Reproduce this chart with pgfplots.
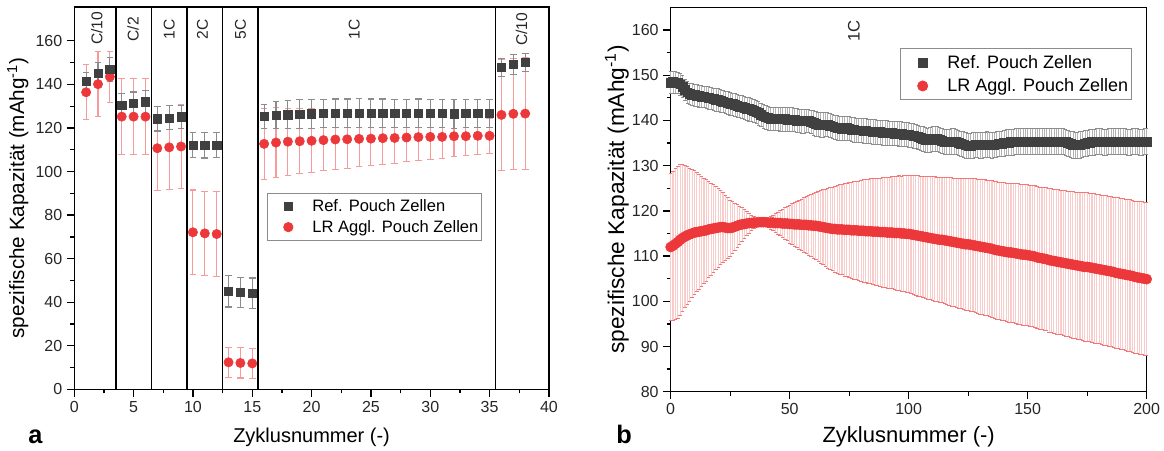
\documentclass[border=0pt]{standalone}
\usepackage{fontspec}
\setmainfont{Liberation Sans}
\usepackage{pgfplots}
\usepackage{pgfplotstable}
\pgfplotsset{compat=1.18}
\definecolor{refc}{RGB}{64,64,64}
\definecolor{referr}{RGB}{140,140,140}
\definecolor{lrc}{RGB}{236,56,58}
\definecolor{lrerr}{RGB}{245,155,155}
\definecolor{lrhatch}{RGB}{249,204,204}
\definecolor{lrcap}{RGB}{240,120,120}
\definecolor{refhatch}{RGB}{180,180,180}

% Left panel (rate test)
\pgfplotstableread[row sep=\\]{
x y e\\
1 141.3 4.1\\ 2 145.1 5.1\\ 3 147.0 5.5\\
4 130.4 5.4\\ 5 131.2 5.3\\ 6 132.0 5.3\\
7 124.2 5.6\\ 8 124.6 5.5\\ 9 125.1 5.4\\
10 112.1 5.8\\ 11 112.0 5.8\\ 12 112.1 5.8\\
13 45.0 7.2\\ 14 44.5 7.0\\ 15 44.1 7.0\\
16 125.2 5.4\\ 17 125.8 6.2\\ 18 126.1 6.5\\ 19 126.3 6.6\\ 20 126.5 6.6\\
21 126.6 6.6\\ 22 126.7 6.6\\ 23 126.7 6.6\\ 24 126.8 6.6\\ 25 126.7 6.6\\
26 126.7 6.6\\ 27 126.6 6.6\\ 28 126.6 6.6\\ 29 126.7 6.6\\ 30 126.6 6.6\\
31 126.6 6.6\\ 32 126.5 6.6\\ 33 126.6 6.6\\ 34 126.6 6.6\\ 35 126.6 6.6\\
36 147.7 4.0\\ 37 149.1 4.5\\ 38 150.2 4.1\\
}\refa
\pgfplotstableread[row sep=\\]{
x y e\\
1 136.4 12.7\\ 2 140.1 14.9\\ 3 143.5 11.8\\
4 125.2 17.5\\ 5 125.2 17.5\\ 6 125.2 17.5\\
7 110.7 19.3\\ 8 111.1 19.3\\ 9 111.5 19.3\\
10 72.1 19.4\\ 11 71.6 19.4\\ 12 71.3 19.4\\
13 12.4 7.0\\ 14 12.1 6.9\\ 15 11.9 6.9\\
16 112.7 16.3\\ 17 113.3 15.9\\ 18 113.7 15.4\\ 19 113.9 15.0\\ 20 114.1 14.6\\
21 114.4 14.1\\ 22 114.7 13.7\\ 23 114.8 13.3\\ 24 115.0 12.8\\ 25 115.1 12.4\\
26 115.3 12.0\\ 27 115.4 11.6\\ 28 115.6 11.1\\ 29 115.8 10.7\\ 30 115.9 10.3\\
31 115.9 9.8\\ 32 116.2 9.4\\ 33 116.2 9.0\\ 34 116.4 8.5\\ 35 116.4 8.1\\
36 126.0 25.4\\ 37 126.5 25.6\\ 38 126.6 25.7\\
}\lra

% Right panel (long-term 1C)
\pgfplotstableread[row sep=\\]{
x y e\\
0 148.4 2.4\\ 1 148.5 2.4\\ 2 148.4 2.4\\ 3 148.3 2.4\\ 4 148.0 2.4\\
5 147.5 2.4\\ 6 146.8 2.4\\ 7 146.2 2.4\\ 8 145.9 2.4\\ 9 145.7 2.4\\
10 145.6 2.4\\ 11 145.5 2.4\\ 12 145.4 2.4\\ 13 145.3 2.4\\ 14 145.2 2.4\\
15 145.1 2.5\\ 16 145.0 2.5\\ 17 144.9 2.5\\ 18 144.7 2.5\\ 19 144.6 2.5\\
20 144.5 2.5\\ 21 144.3 2.5\\ 22 144.2 2.5\\ 23 144.0 2.5\\ 24 143.9 2.5\\
25 143.7 2.5\\ 26 143.6 2.5\\ 27 143.4 2.5\\ 28 143.3 2.5\\ 29 143.1 2.5\\
30 143.0 2.6\\ 31 142.8 2.6\\ 32 142.6 2.6\\ 33 142.5 2.6\\ 34 142.3 2.6\\
35 142.1 2.6\\ 36 141.9 2.6\\ 37 141.6 2.6\\ 38 141.2 2.6\\ 39 140.9 2.6\\
40 140.7 2.6\\ 41 140.5 2.6\\ 42 140.4 2.6\\ 43 140.4 2.6\\ 44 140.4 2.6\\
45 140.4 2.6\\ 46 140.3 2.6\\ 47 140.3 2.6\\ 48 140.3 2.6\\ 49 140.2 2.6\\
50 140.2 2.6\\ 51 140.2 2.6\\ 52 140.1 2.6\\ 53 140.0 2.6\\ 54 139.9 2.6\\
55 139.8 2.6\\ 56 139.8 2.6\\ 57 139.9 2.6\\ 58 139.9 2.6\\ 59 139.7 2.6\\
60 139.5 2.7\\ 61 139.3 2.7\\ 62 139.1 2.7\\ 63 139.0 2.7\\ 64 139.0 2.7\\
65 139.1 2.7\\ 66 139.1 2.7\\ 67 138.9 2.7\\ 68 138.7 2.7\\ 69 138.5 2.7\\
70 138.4 2.7\\ 71 138.3 2.7\\ 72 138.2 2.7\\ 73 138.2 2.7\\ 74 138.3 2.7\\
75 138.2 2.7\\ 76 138.0 2.7\\ 77 137.9 2.7\\ 78 137.8 2.7\\ 79 137.8 2.7\\
80 137.8 2.7\\ 81 137.7 2.7\\ 82 137.7 2.7\\ 83 137.6 2.7\\ 84 137.6 2.7\\
85 137.5 2.7\\ 86 137.5 2.7\\ 87 137.4 2.7\\ 88 137.4 2.7\\ 89 137.3 2.7\\
90 137.3 2.7\\ 91 137.3 2.7\\ 92 137.2 2.7\\ 93 137.2 2.7\\ 94 137.1 2.7\\
95 137.1 2.7\\ 96 137.0 2.7\\ 97 137.0 2.7\\ 98 136.9 2.7\\ 99 136.9 2.7\\
100 136.8 2.7\\ 101 136.7 2.7\\ 102 136.6 2.7\\ 103 136.5 2.7\\ 104 136.3 2.7\\
105 136.1 2.7\\ 106 135.9 2.7\\ 107 135.7 2.7\\ 108 135.6 2.7\\ 109 135.7 2.7\\
110 135.9 2.8\\ 111 136.0 2.8\\ 112 135.9 2.8\\ 113 135.7 2.8\\ 114 135.5 2.8\\
115 135.3 2.8\\ 116 135.2 2.8\\ 117 135.3 2.8\\ 118 135.4 2.8\\ 119 135.4 2.8\\
120 135.3 2.8\\ 121 135.1 2.8\\ 122 134.9 2.8\\ 123 134.7 2.8\\ 124 134.5 2.8\\
125 134.4 2.8\\ 126 134.4 2.8\\ 127 134.5 2.8\\ 128 134.6 2.8\\ 129 134.6 2.8\\
130 134.5 2.8\\ 131 134.5 2.8\\ 132 134.6 2.8\\ 133 134.7 2.8\\ 134 134.6 2.8\\
135 134.5 2.8\\ 136 134.6 2.8\\ 137 134.7 2.8\\ 138 134.8 2.8\\ 139 134.9 2.8\\
140 135.0 2.9\\ 141 135.1 2.9\\ 142 135.1 2.9\\ 143 135.2 2.9\\ 144 135.2 2.9\\
145 135.3 2.9\\ 146 135.3 2.9\\ 147 135.3 2.9\\ 148 135.3 2.9\\ 149 135.3 2.9\\
150 135.3 2.9\\ 151 135.3 2.9\\ 152 135.4 2.9\\ 153 135.4 2.9\\ 154 135.3 2.9\\
155 135.3 2.9\\ 156 135.3 2.9\\ 157 135.3 2.9\\ 158 135.3 2.9\\ 159 135.4 2.9\\
160 135.4 2.9\\ 161 135.3 2.9\\ 162 135.3 2.9\\ 163 135.3 2.9\\ 164 135.3 2.9\\
165 135.3 2.9\\ 166 135.2 2.9\\ 167 135.0 2.9\\ 168 134.8 2.9\\ 169 134.6 2.9\\
170 134.5 2.9\\ 171 134.5 2.9\\ 172 134.6 2.9\\ 173 134.7 2.9\\ 174 134.9 2.9\\
175 135.0 2.9\\ 176 135.1 2.9\\ 177 135.2 2.9\\ 178 135.2 2.9\\ 179 135.3 2.9\\
180 135.3 2.9\\ 181 135.3 2.9\\ 182 135.2 2.9\\ 183 135.2 2.9\\ 184 135.3 2.9\\
185 135.3 2.9\\ 186 135.4 2.9\\ 187 135.4 2.9\\ 188 135.3 2.9\\ 189 135.3 2.9\\
190 135.3 2.9\\ 191 135.3 2.9\\ 192 135.2 2.9\\ 193 135.2 2.9\\ 194 135.3 2.9\\
195 135.3 2.9\\ 196 135.3 2.9\\ 197 135.2 2.9\\ 198 135.2 2.9\\ 199 135.3 2.9\\
200 135.3 2.9\\
}\refb
\pgfplotstableread[row sep=\\]{
x y e\\
0 112.0 16.3\\ 1 112.3 16.5\\ 2 112.7 16.7\\ 3 113.1 16.8\\ 4 113.6 16.6\\
5 114.0 16.2\\ 6 114.3 15.7\\ 7 114.6 15.2\\ 8 114.8 14.7\\ 9 115.0 14.2\\
10 115.2 13.7\\ 11 115.3 13.2\\ 12 115.4 12.7\\ 13 115.5 12.2\\ 14 115.6 11.7\\
15 115.7 11.2\\ 16 115.9 10.7\\ 17 116.0 10.2\\ 18 116.1 9.7\\ 19 116.2 9.2\\
20 116.3 8.7\\ 21 116.4 8.2\\ 22 116.4 7.7\\ 23 116.3 7.2\\ 24 116.2 6.7\\
25 116.2 6.2\\ 26 116.3 5.7\\ 27 116.5 5.2\\ 28 116.7 4.7\\ 29 116.9 4.2\\
30 117.0 3.7\\ 31 117.1 3.2\\ 32 117.2 2.7\\ 33 117.3 2.2\\ 34 117.3 1.7\\
35 117.4 1.3\\ 36 117.4 0.9\\ 37 117.5 0.5\\ 38 117.5 0.2\\ 39 117.5 0.3\\
40 117.5 0.7\\ 41 117.4 1.0\\ 42 117.4 1.4\\ 43 117.4 1.7\\ 44 117.3 2.1\\
45 117.3 2.4\\ 46 117.3 2.8\\ 47 117.2 3.1\\ 48 117.2 3.5\\ 49 117.2 3.8\\
50 117.1 4.2\\ 51 117.1 4.5\\ 52 117.0 4.8\\ 53 117.0 5.1\\ 54 117.0 5.4\\
55 116.9 5.7\\ 56 116.9 6.0\\ 57 116.9 6.3\\ 58 116.8 6.6\\ 59 116.8 6.9\\
60 116.7 7.2\\ 61 116.7 7.5\\ 62 116.6 7.8\\ 63 116.5 8.0\\ 64 116.4 8.3\\
65 116.3 8.5\\ 66 116.2 8.8\\ 67 116.1 9.0\\ 68 116.0 9.2\\ 69 116.0 9.5\\
70 115.9 9.7\\ 71 115.9 9.9\\ 72 115.9 10.0\\ 73 115.8 10.2\\ 74 115.8 10.3\\
75 115.8 10.5\\ 76 115.7 10.6\\ 77 115.7 10.8\\ 78 115.7 10.9\\ 79 115.6 11.0\\
80 115.6 11.2\\ 81 115.6 11.3\\ 82 115.5 11.4\\ 83 115.5 11.5\\ 84 115.5 11.6\\
85 115.4 11.7\\ 86 115.4 11.8\\ 87 115.4 11.9\\ 88 115.3 12.0\\ 89 115.3 12.1\\
90 115.3 12.2\\ 91 115.2 12.3\\ 92 115.2 12.3\\ 93 115.2 12.4\\ 94 115.1 12.5\\
95 115.1 12.6\\ 96 115.1 12.7\\ 97 115.0 12.7\\ 98 115.0 12.8\\ 99 114.9 12.9\\
100 114.9 13.0\\ 101 114.8 13.1\\ 102 114.7 13.1\\ 103 114.6 13.2\\ 104 114.5 13.3\\
105 114.4 13.3\\ 106 114.3 13.4\\ 107 114.2 13.5\\ 108 114.1 13.6\\ 109 114.0 13.6\\
110 113.9 13.7\\ 111 113.8 13.8\\ 112 113.7 13.8\\ 113 113.6 13.9\\ 114 113.6 13.9\\
115 113.5 14.0\\ 116 113.4 14.1\\ 117 113.3 14.1\\ 118 113.2 14.2\\ 119 113.1 14.2\\
120 113.0 14.3\\ 121 112.9 14.4\\ 122 112.8 14.4\\ 123 112.7 14.5\\ 124 112.6 14.5\\
125 112.6 14.6\\ 126 112.5 14.7\\ 127 112.4 14.7\\ 128 112.3 14.8\\ 129 112.2 14.8\\
130 112.1 14.9\\ 131 112.0 14.9\\ 132 111.9 15.0\\ 133 111.8 15.0\\ 134 111.7 15.1\\
135 111.6 15.1\\ 136 111.4 15.2\\ 137 111.3 15.2\\ 138 111.2 15.2\\ 139 111.1 15.3\\
140 111.0 15.3\\ 141 110.9 15.3\\ 142 110.8 15.4\\ 143 110.8 15.4\\ 144 110.7 15.4\\
145 110.6 15.4\\ 146 110.5 15.5\\ 147 110.4 15.5\\ 148 110.3 15.5\\ 149 110.3 15.5\\
150 110.2 15.6\\ 151 110.1 15.6\\ 152 110.0 15.6\\ 153 109.9 15.7\\ 154 109.7 15.7\\
155 109.6 15.7\\ 156 109.5 15.8\\ 157 109.4 15.8\\ 158 109.3 15.8\\ 159 109.1 15.9\\
160 109.0 15.9\\ 161 108.9 15.9\\ 162 108.8 16.0\\ 163 108.7 16.0\\ 164 108.6 16.0\\
165 108.5 16.1\\ 166 108.4 16.1\\ 167 108.3 16.1\\ 168 108.2 16.2\\ 169 108.1 16.2\\
170 108.0 16.2\\ 171 107.9 16.3\\ 172 107.8 16.3\\ 173 107.7 16.3\\ 174 107.6 16.4\\
175 107.6 16.4\\ 176 107.5 16.4\\ 177 107.4 16.5\\ 178 107.3 16.5\\ 179 107.2 16.5\\
180 107.1 16.5\\ 181 107.0 16.5\\ 182 106.9 16.6\\ 183 106.8 16.6\\ 184 106.7 16.6\\
185 106.6 16.6\\ 186 106.5 16.6\\ 187 106.3 16.7\\ 188 106.2 16.7\\ 189 106.1 16.7\\
190 106.0 16.7\\ 191 105.9 16.7\\ 192 105.8 16.8\\ 193 105.7 16.8\\ 194 105.6 16.8\\
195 105.4 16.8\\ 196 105.3 16.8\\ 197 105.2 16.9\\ 198 105.1 16.9\\ 199 105.0 16.9\\
200 104.9 16.9\\
}\lrb

\pgfplotsset{
  myaxis/.style={
    scale only axis,
    anchor=south west,
    axis line style={line width=1.1pt},
    tick align=outside,
    xtick pos=bottom, ytick pos=left,
    major tick length=5.5pt, minor tick length=3pt,
    every tick/.style={black, line width=1pt},
    minor x tick num=1, minor y tick num=1,
    /pgf/number format/assume math mode=true,
    tick label style={font=\fontsize{12}{14}\selectfont, text=black!85},
    legend cell align=left,
    reverse legend,
  }
}

\begin{document}
\begin{tikzpicture}
% ---------------- panel a ----------------
\begin{axis}[myaxis,
  at={(55.7pt,45.5pt)}, width=356pt, height=286.7pt,
  xmin=0, xmax=40, ymin=0, ymax=175.5,
  xtick={0,5,...,40}, ytick={0,20,...,160},
  xlabel={Zyklusnummer (-)},
  ylabel={spezifische Kapazität (mAhg\textsuperscript{-1})},
  x label style={at={(axis description cs:0.5,-0.125)}, anchor=center, font=\fontsize{15}{18}\selectfont},
  y label style={at={(axis description cs:-0.119,0.5)}, anchor=center, font=\fontsize{15.5}{18}\selectfont},
  legend image code/.code={\path[draw=none] (0pt,0pt) (31pt,0pt); \draw[#1] plot coordinates {(13.5pt,0pt)};},
  legend style={at={(0.4066,0.514)}, anchor=north west, draw=black!45, line width=0.6pt,
    font=\fontsize{12.4}{14}\selectfont, inner xsep=2pt, inner ysep=2.5pt, row sep=1.2pt,
    nodes={inner xsep=0.5pt, inner ysep=2pt}},
  clip=false,
]
\addplot[forget plot, black, line width=1.1pt] coordinates {(3.5,0) (3.5,175.5)};
\addplot[forget plot, black, line width=1.1pt] coordinates {(6.5,0) (6.5,175.5)};
\addplot[forget plot, black, line width=1.1pt] coordinates {(9.5,0) (9.5,175.5)};
\addplot[forget plot, black, line width=1.1pt] coordinates {(12.5,0) (12.5,175.5)};
\addplot[forget plot, black, line width=1.1pt] coordinates {(15.5,0) (15.5,175.5)};
\addplot[forget plot, black, line width=1.1pt] coordinates {(35.5,0) (35.5,175.5)};
\addplot[only marks, mark=*, mark size=3.5pt, color=lrc, mark options={draw=lrc, fill=lrc},
  error bars/.cd, y dir=both, y explicit,
  error bar style={color=lrerr, line width=0.8pt},
  error mark options={rotate=90, color=lrerr, mark size=2.5pt, line width=0.8pt}]
  table[x=x, y=y, y error=e] {\lra};
\addlegendentry{LR Aggl. Pouch Zellen}
\addplot[only marks, mark=square*, mark size=3.1pt, color=refc, mark options={draw=refc, fill=refc},
  error bars/.cd, y dir=both, y explicit,
  error bar style={color=referr, line width=0.8pt},
  error mark options={rotate=90, color=referr, mark size=2.5pt, line width=0.8pt}]
  table[x=x, y=y, y error=e] {\refa};
\addlegendentry{Ref. Pouch Zellen}
\node[rotate=90, font=\fontsize{11.7}{14}\selectfont, text=black!85] at (axis cs:1.9,165.8) {C/10};
\node[rotate=90, font=\fontsize{11.7}{14}\selectfont, text=black!85] at (axis cs:4.95,165.3) {C/2};
\node[rotate=90, font=\fontsize{11.7}{14}\selectfont, text=black!85] at (axis cs:8.0,165.3) {1C};
\node[rotate=90, font=\fontsize{11.7}{14}\selectfont, text=black!85] at (axis cs:10.8,165.3) {2C};
\node[rotate=90, font=\fontsize{11.7}{14}\selectfont, text=black!85] at (axis cs:14.0,165.3) {5C};
\node[rotate=90, font=\fontsize{11.7}{14}\selectfont, text=black!85] at (axis cs:23.6,165.3) {1C};
\node[rotate=90, font=\fontsize{11.7}{14}\selectfont, text=black!85] at (axis cs:37.7,165.3) {C/10};
\end{axis}
% ---------------- panel b ----------------
\begin{axis}[myaxis,
  at={(503pt,43.7pt)}, width=357pt, height=288.3pt,
  xmin=0, xmax=200, ymin=80, ymax=165,
  xtick={0,50,...,200}, ytick={80,90,...,160},
  xlabel={Zyklusnummer (-)},
  ylabel={spezifische Kapazität (mAhg\textsuperscript{-1})},
  x label style={at={(axis description cs:0.5,-0.118)}, anchor=center, font=\fontsize{16.5}{19}\selectfont},
  y label style={at={(axis description cs:-0.113,0.5)}, anchor=center, font=\fontsize{17}{20}\selectfont},
  legend image code/.code={\path[draw=none] (0pt,0pt) (33pt,0pt); \draw[#1] plot coordinates {(15pt,0pt)};},
  legend style={at={(0.481,0.893)}, anchor=north west, draw=black!45, line width=0.6pt,
    font=\fontsize{13.5}{16}\selectfont, inner xsep=2pt, inner ysep=2.5pt, row sep=1.8pt,
    nodes={inner xsep=0.5pt, inner ysep=2.2pt}},
  clip=false,
]
\addplot[only marks, mark=*, mark size=3.8pt, color=lrc, mark options={draw=lrc, fill=lrc},
  error bars/.cd, y dir=both, y explicit,
  error bar style={color=lrhatch, line width=0.85pt},
  error mark options={rotate=90, color=lrcap, mark size=1.3pt, line width=0.45pt}]
  table[x=x, y=y, y error=e] {\lrb};
\addlegendentry{LR Aggl. Pouch Zellen}
\addplot[only marks, mark=square*, mark size=3.3pt, color=refc, mark options={draw=refc, fill=refc},
  error bars/.cd, y dir=both, y explicit,
  error bar style={color=refhatch, line width=0.4pt},
  error mark options={rotate=90, color=referr, mark size=1.3pt, line width=0.4pt}]
  table[x=x, y=y, y error=e] {\refb};
\addlegendentry{Ref. Pouch Zellen}
\node[rotate=90, font=\fontsize{12.5}{14}\selectfont, text=black!85] at (axis cs:77,159.8) {1C};
\end{axis}
\node[anchor=base west, font=\bfseries\fontsize{19}{22}\selectfont, inner sep=0pt] at (21pt,5.25pt) {a};
\node[anchor=base west, font=\bfseries\fontsize{19}{22}\selectfont, inner sep=0pt] at (462pt,5.25pt) {b};
\pgfresetboundingbox
\useasboundingbox (0,0) rectangle (873pt,337.5pt);
\end{tikzpicture}
\end{document}
